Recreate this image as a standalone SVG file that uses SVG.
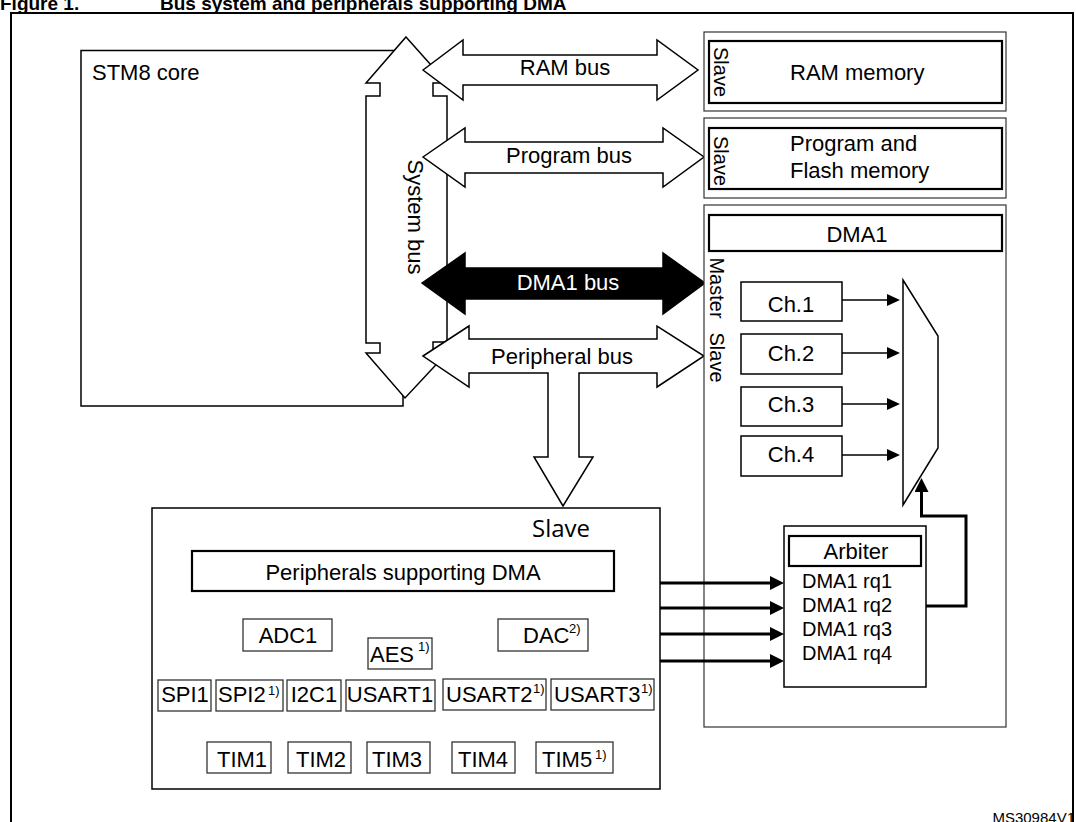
<svg xmlns="http://www.w3.org/2000/svg" width="1076" height="822" viewBox="0 0 1076 822">
<style>
.t{font-family:"Liberation Sans",Arial,sans-serif;font-size:22px;fill:#000}
.s{font-family:"Liberation Sans",Arial,sans-serif;font-size:20px;fill:#000}
.m{text-anchor:middle}
.sup{font-family:"Liberation Sans",Arial,sans-serif;font-size:13px;fill:#000}
.title{font-family:"Liberation Sans",Arial,sans-serif;font-size:19px;font-weight:bold;fill:#000}
.box{fill:#fff;stroke:#000;stroke-width:1.5}
.thin{fill:#fff;stroke:#333;stroke-width:1.2}
.thick{fill:#fff;stroke:#000;stroke-width:2.2}
.bus{fill:#fff;stroke:#000;stroke-width:1.5;stroke-linejoin:miter}
.pbox{fill:#fff;stroke:#333;stroke-width:1.3}
.ln{fill:none;stroke:#000;stroke-width:1.5}
.lnb{fill:none;stroke:#000;stroke-width:3}
</style>
<defs>
<marker id="ah" markerUnits="userSpaceOnUse" markerWidth="14" markerHeight="12" refX="3" refY="6" orient="auto">
<path d="M0,0 L13,6 L0,12 z" fill="#000"/>
</marker>
<marker id="ahb" markerUnits="userSpaceOnUse" markerWidth="14" markerHeight="14" refX="3" refY="7" orient="auto">
<path d="M0,0 L14,7 L0,14 z" fill="#000"/>
</marker>
</defs>

<text class="title" x="0" y="10">Figure 1.</text>
<text class="title" x="160" y="10">Bus system and peripherals supporting DMA</text>
<rect x="11" y="13" width="1062" height="830" fill="none" stroke="#000" stroke-width="2"/>

<g id="stm8core">
<rect class="box" x="81" y="50.5" width="322" height="355.5"/>
<text class="t" x="92" y="80">STM8 core</text>
</g>

<g id="systembus">
<path class="bus" d="M406,37 L447,83 L433,83 L433,96 L447,96 L447,342 L433,342 L433,353 L447,353 L405,398 L366,353 L380,353 L380,343 L366,343 L366,96 L380,96 L380,83 L366,83 Z"/>
<text class="t m" transform="translate(415,217) rotate(90)" dominant-baseline="central">System bus</text>
</g>

<g id="rambus">
<path class="bus" d="M423,70 L463,40 L463,55 L657,55 L657,40 L698,70 L657,100 L657,85 L463,85 L463,100 Z"/>
<text class="t m" x="565" y="75">RAM bus</text>
</g>

<g id="programbus">
<path class="bus" d="M423,157 L465,128 L465,142 L663,142 L663,128 L704,157 L663,187 L663,173 L465,173 L465,187 Z"/>
<text class="t m" x="569" y="163">Program bus</text>
</g>

<g id="dma1bus">
<path d="M422,283 L465,253 L465,268 L663,268 L663,253 L705,283 L663,314 L663,299 L465,299 L465,314 Z" fill="#000" stroke="#000" stroke-width="1.5"/>
<text class="t m" x="568" y="290" style="fill:#fff">DMA1 bus</text>
</g>

<g id="peripheralbus">
<path class="bus" d="M423,356 L469,326 L469,339 L657,339 L657,326 L704,356 L657,387 L657,373 L579,373 L579,457 L593,457 L563,506 L534,457 L548,457 L548,373 L469,373 L469,387 Z"/>
<text class="t m" x="562" y="364">Peripheral bus</text>
</g>

<g id="ram">
<rect class="thin" x="704" y="32" width="302" height="79"/>
<rect class="thick" x="709" y="41" width="293" height="62"/>
<text class="s m" transform="translate(721,72) rotate(90)" dominant-baseline="central">Slave</text>
<text class="t" x="790" y="80">RAM memory</text>
</g>

<g id="flash">
<rect class="thin" x="704" y="118" width="302" height="80"/>
<rect class="thick" x="709" y="128" width="293" height="61"/>
<text class="s m" transform="translate(721,161) rotate(90)" dominant-baseline="central">Slave</text>
<text class="t" x="790" y="151">Program and</text>
<text class="t" x="790" y="178">Flash memory</text>
</g>

<g id="dma1">
<rect class="thin" x="704" y="205" width="302" height="522"/>
<rect class="thick" x="709" y="215" width="293" height="36"/>
<text class="t m" x="857" y="242">DMA1</text>
<text class="s m" transform="translate(716.5,288) rotate(90)" dominant-baseline="central">Master</text>
<text class="s m" transform="translate(716.5,357.5) rotate(90)" dominant-baseline="central">Slave</text>
</g>

<g id="ch1"><rect class="box" x="741" y="282" width="101" height="39"/><text class="t m" x="791" y="312">Ch.1</text></g>
<g id="ch2"><rect class="box" x="741" y="334" width="101" height="40"/><text class="t m" x="791" y="361">Ch.2</text></g>
<g id="ch3"><rect class="box" x="741" y="387" width="101" height="39"/><text class="t m" x="791" y="412">Ch.3</text></g>
<g id="ch4"><rect class="box" x="741" y="436" width="101" height="40"/><text class="t m" x="791" y="462">Ch.4</text></g>

<g id="mux">
<path class="box" d="M903,280 L938,336 L938,448 L903,505 Z"/>
</g>

<g id="arbiter">
<rect class="box" x="784" y="526" width="142" height="161"/>
<rect class="thick" x="789" y="536" width="132" height="30"/>
<text class="t m" x="856" y="559">Arbiter</text>
<text class="s" x="802" y="588">DMA1 rq1</text>
<text class="s" x="802" y="612">DMA1 rq2</text>
<text class="s" x="802" y="636">DMA1 rq3</text>
<text class="s" x="802" y="660">DMA1 rq4</text>
</g>

<g id="peripherals">
<rect class="box" x="152" y="508" width="508" height="281"/>
<text x="532" y="537" style="font-family:'Open Sans','Noto Sans',sans-serif;font-size:24px;fill:#000">Slave</text>
<rect class="thick" x="192" y="551" width="422" height="40"/>
<text class="t m" x="403" y="580">Peripherals supporting DMA</text>
</g>

<g id="adc1"><rect class="pbox" x="243" y="619" width="89" height="32"/><text class="t m" x="288" y="643">ADC1</text></g>
<g id="aes"><rect class="pbox" x="368" y="638" width="64" height="31"/><text class="t" x="370" y="662">AES</text><text class="sup" x="418" y="651">1)</text></g>
<g id="dac"><rect class="pbox" x="498" y="619" width="90" height="32"/><text class="t" x="523" y="643">DAC</text><text class="sup" x="569" y="633">2)</text></g>

<g id="spi1"><rect class="pbox" x="158" y="680" width="53" height="31"/><text class="t m" x="185" y="702">SPI1</text></g>
<g id="spi2"><rect class="pbox" x="216" y="680" width="67" height="31"/><text class="t" x="218" y="702">SPI2</text><text class="sup" x="268" y="695">1)</text></g>
<g id="i2c1"><rect class="pbox" x="287" y="680" width="54" height="31"/><text class="t m" x="314" y="702">I2C1</text></g>
<g id="usart1"><rect class="pbox" x="346" y="680" width="89" height="31"/><text class="t m" x="390" y="702">USART1</text></g>
<g id="usart2"><rect class="pbox" x="443" y="679" width="103" height="31"/><text class="t" x="446" y="702">USART2</text><text class="sup" x="533" y="693">1)</text></g>
<g id="usart3"><rect class="pbox" x="551" y="679" width="103" height="31"/><text class="t" x="554" y="702">USART3</text><text class="sup" x="641" y="693">1)</text></g>

<g id="tim1"><rect class="pbox" x="207" y="742" width="64" height="31"/><text class="t m" x="242" y="767">TIM1</text></g>
<g id="tim2"><rect class="pbox" x="288" y="742" width="63" height="31"/><text class="t m" x="321" y="767">TIM2</text></g>
<g id="tim3"><rect class="pbox" x="367" y="742" width="63" height="31"/><text class="t m" x="397" y="767">TIM3</text></g>
<g id="tim4"><rect class="pbox" x="452" y="742" width="63" height="31"/><text class="t m" x="483" y="767">TIM4</text></g>
<g id="tim5"><rect class="pbox" x="536" y="742" width="77" height="31"/><text class="t" x="542" y="767">TIM5</text><text class="sup" x="595" y="759">1)</text></g>

<g id="connectors">
<line class="ln" x1="842" y1="300" x2="890" y2="300" marker-end="url(#ah)"/>
<line class="ln" x1="842" y1="353" x2="890" y2="353" marker-end="url(#ah)"/>
<line class="ln" x1="842" y1="404" x2="890" y2="404" marker-end="url(#ah)"/>
<line class="ln" x1="842" y1="455" x2="890" y2="455" marker-end="url(#ah)"/>
<line class="lnb" x1="660" y1="583" x2="773" y2="583" marker-end="url(#ahb)"/>
<line class="lnb" x1="660" y1="608" x2="773" y2="608" marker-end="url(#ahb)"/>
<line class="lnb" x1="660" y1="634" x2="773" y2="634" marker-end="url(#ahb)"/>
<line class="lnb" x1="660" y1="661" x2="773" y2="661" marker-end="url(#ahb)"/>
<polyline class="lnb" points="926,606 966,606 966,516 921.5,516 921.5,489" marker-end="url(#ahb)"/>
</g>

<text x="1075" y="823" text-anchor="end" style="font-family:'Liberation Sans',Arial,sans-serif;font-size:15px;fill:#000">MS30984V1</text>
</svg>
